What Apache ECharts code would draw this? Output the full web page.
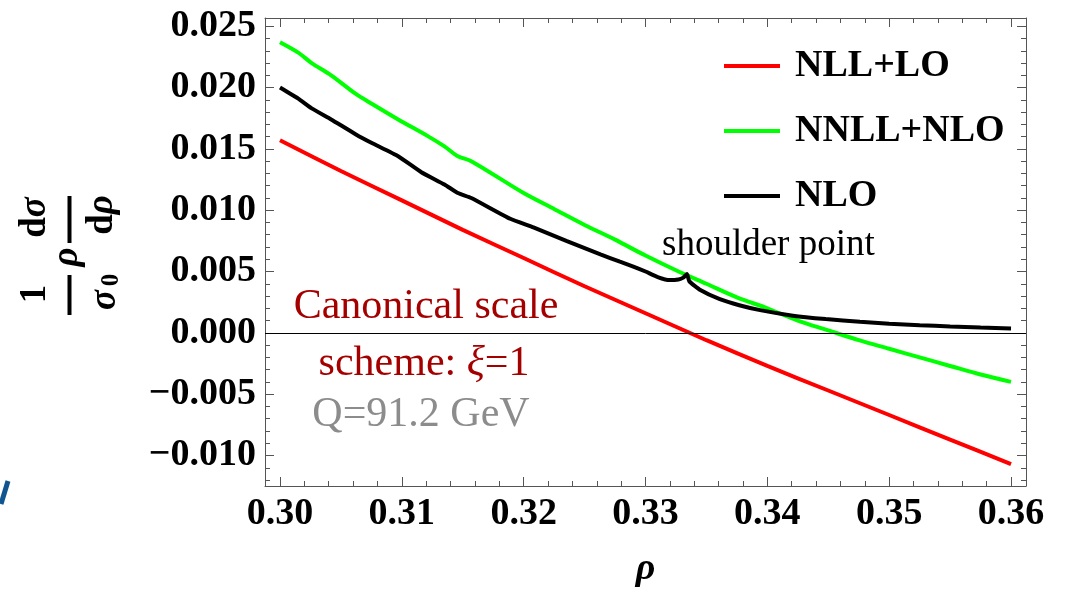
<!DOCTYPE html>
<html>
<head>
<meta charset="utf-8">
<title>Canonical scale scheme</title>
<script src="https://cdn.jsdelivr.net/npm/echarts@6/dist/echarts.min.js"></script>
<style>
html, body { margin: 0; padding: 0; background: #fff; }
#main { width: 1072px; height: 593px; }
</style>
</head>
<body>
<div id="main"></div>
<script>
var mychart = echarts.init(document.getElementById('main'));

// NLL+LO
var redRho = [0.300, 0.305, 0.310, 0.315, 0.320, 0.325, 0.330, 0.335, 0.340, 0.345, 0.350, 0.355, 0.360];
var redVal = [0.0157, 0.0132, 0.0108, 0.0084, 0.0061, 0.0038, 0.0016, -0.0006, -0.0027, -0.0047, -0.0067, -0.0087, -0.0107];

// NNLL+NLO
var greenRho = [0.300, 0.3015, 0.3026, 0.3042, 0.3062, 0.3075, 0.3097, 0.3122, 0.3135, 0.3146, 0.3157,
    0.320, 0.3225, 0.325, 0.3275, 0.330, 0.3325, 0.335, 0.3375, 0.340, 0.3425, 0.345, 0.3475,
    0.350, 0.3525, 0.355, 0.3575, 0.360];
var greenVal = [0.0237, 0.02285, 0.0220, 0.0210, 0.0195, 0.0187, 0.0174, 0.0160, 0.0152, 0.0144, 0.0140,
    0.0114, 0.0101, 0.0088, 0.0076, 0.0063, 0.0051, 0.0040, 0.0029, 0.0020, 0.0010, 0.0002, -0.0006,
    -0.0013, -0.0020, -0.0027, -0.0034, -0.0040];

// NLO (with the shoulder near 0.3333)
var blackRho = [0.300, 0.3015, 0.3026, 0.3042, 0.3062, 0.3075, 0.3097, 0.3116, 0.3135, 0.3146, 0.3157,
    0.3189, 0.3208, 0.3235, 0.3263, 0.3279, 0.329, 0.330, 0.331, 0.332, 0.3327, 0.3331, 0.3334,
    0.3336, 0.3345, 0.3361, 0.3377, 0.3394, 0.3421, 0.3448, 0.3476, 0.350, 0.3525, 0.355, 0.3575, 0.360];
var blackVal = [0.0200, 0.0191, 0.0183, 0.0174, 0.0162, 0.0155, 0.0144, 0.0131, 0.0121, 0.0114, 0.0110,
    0.0093, 0.0086, 0.0075, 0.0064, 0.0058, 0.0054, 0.0050, 0.00455, 0.0043, 0.00435, 0.0045, 0.0048,
    0.0042, 0.0035, 0.00275, 0.00225, 0.00185, 0.0014, 0.00112, 0.0009, 0.00075, 0.00062, 0.00052, 0.00043, 0.00035];

var seriesNames = ['NLL+LO', 'NNLL+NLO', 'NLO'];
var seriesColors = ['#ff0000', '#00ff00', '#000000'];
var seriesSmooth = [0.3, 0.3, 0.15];

var xTicks = [0.30, 0.31, 0.32, 0.33, 0.34, 0.35, 0.36];
var xTickLabels = ['0.30', '0.31', '0.32', '0.33', '0.34', '0.35', '0.36'];
var yTicks = [-0.010, -0.005, 0, 0.005, 0.010, 0.015, 0.020, 0.025];
var yTickLabels = ['\u22120.010', '\u22120.005', '0.000', '0.005', '0.010', '0.015', '0.020', '0.025'];

// frame range
const xMin = 0.29877, xMax = 0.36123;
const yMin = -0.012488, yMax = 0.025673;

const font = 'Liberation Serif';
const tickColor = '#555';

// minor ticks: five steps between labelled ticks
var xMinor = [];
for (let i = 0; i < xTicks.length - 1; i++) {
    for (let k = 1; k < 5; k++) xMinor.push(xTicks[i] + k * 0.002);
}
var yMinor = [];
for (let m = -12; m <= 25; m++) {
    if (m % 5 !== 0) yMinor.push(m / 1000);
}

function pairs(xs, ys) {
    let out = [];
    for (let i = 0; i < xs.length; i++) out.push([xs[i], ys[i]]);
    return out;
}

function lookup(ticks, labels) {
    return function (v) {
        for (let i = 0; i < ticks.length; i++) {
            if (Math.abs(ticks[i] - v) < 1e-7) return labels[i];
        }
        return '';
    };
}

function axis(pos, min, max, ticks, len, showLine, labels, fmt) {
    return {
        type: 'value',
        position: pos,
        min: min,
        max: max,
        axisLine: { show: showLine, onZero: false, lineStyle: { color: tickColor, width: 1 } },
        axisTick: { show: true, inside: true, length: len, customValues: ticks,
            lineStyle: { color: tickColor, width: 1 } },
        axisLabel: labels ? {
            show: true, customValues: labels, formatter: fmt, margin: 9,
            fontFamily: font, fontWeight: 'bold', fontSize: 38, color: '#000'
        } : { show: false },
        splitLine: { show: false }
    };
}

var xAxes = [
    axis('bottom', xMin, xMax, xTicks, 9, true, xTicks, lookup(xTicks, xTickLabels)),
    axis('bottom', xMin, xMax, xMinor, 5, false),
    axis('top', xMin, xMax, xTicks, 9, true),
    axis('top', xMin, xMax, xMinor, 5, false)
];
xAxes[0].name = '\u03c1';
xAxes[0].nameLocation = 'middle';
xAxes[0].nameGap = 64;
xAxes[0].nameTextStyle = { fontFamily: font, fontStyle: 'italic', fontWeight: 'bold', fontSize: 38, color: '#000' };

var yAxes = [
    axis('left', yMin, yMax, yTicks, 9, true, yTicks, lookup(yTicks, yTickLabels)),
    axis('left', yMin, yMax, yMinor, 5, false),
    axis('right', yMin, yMax, yTicks, 9, true),
    axis('right', yMin, yMax, yMinor, 5, false)
];

var curves = [pairs(redRho, redVal), pairs(greenRho, greenVal), pairs(blackRho, blackVal)];
var series = [];
for (let i = 0; i < curves.length; i++) {
    series.push({
        name: seriesNames[i],
        type: 'line',
        data: curves[i],
        symbol: 'none',
        showSymbol: false,
        smooth: seriesSmooth[i],
        color: seriesColors[i],
        lineStyle: { color: seriesColors[i], width: 4 },
        xAxisIndex: 0,
        yAxisIndex: 0,
        z: 3
    });
}
// thin line at zero
series[0].markLine = {
    silent: true,
    symbol: ['none', 'none'],
    label: { show: false },
    lineStyle: { color: '#000', width: 1, type: 'solid' },
    data: [{ yAxis: 0 }]
};

var t = { fontFamily: font, fontSize: 37, fontWeight: 'bold', fill: '#000' };
var ti = { fontFamily: font, fontSize: 37, fontWeight: 'bold', fontStyle: 'italic', fill: '#000' };

// y axis title, built flat then turned 90 degrees
var yTitle = {
    type: 'group',
    x: 72, y: 256,
    rotation: Math.PI / 2,
    children: [
        { type: 'text', style: Object.assign({ text: '1', x: -38, y: -37, align: 'center', verticalAlign: 'middle' }, t) },
        { type: 'line', shape: { x1: -59, y1: -2.5, x2: -19, y2: -2.5 }, style: { stroke: '#000', lineWidth: 4 } },
        { type: 'text', style: Object.assign({ text: '\u03c3', x: -44, y: 33, align: 'center', verticalAlign: 'middle' }, ti) },
        { type: 'text', style: { text: '0', x: -24, y: 40, align: 'center', verticalAlign: 'middle',
            fontFamily: font, fontSize: 25, fontWeight: 'bold', fill: '#000' } },
        { type: 'text', style: Object.assign({ text: '\u03c1', x: -1, y: -5, align: 'center', verticalAlign: 'middle' }, ti) },
        { type: 'line', shape: { x1: 13, y1: -2.5, x2: 60, y2: -2.5 }, style: { stroke: '#000', lineWidth: 4 } },
        { type: 'text', style: { text: '{d|d}{s|\u03c3}', x: 38.5, y: -37, align: 'center', verticalAlign: 'middle',
            rich: { d: t, s: ti } } },
        { type: 'text', style: { text: '{d|d}{s|\u03c1}', x: 41, y: 30, align: 'center', verticalAlign: 'middle',
            rich: { d: t, s: ti } } }
    ]
};

var red = '#a50000';
var option = {
    animation: false,
    backgroundColor: '#fff',
    grid: { left: 265, top: 18, right: 46, bottom: 104, containLabel: false },
    xAxis: xAxes,
    yAxis: yAxes,
    legend: {
        orient: 'vertical',
        left: 719,
        top: 41,
        icon: 'rect',
        itemWidth: 56,
        itemHeight: 4,
        itemGap: 25,
        textStyle: { fontFamily: font, fontWeight: 'bold', fontSize: 38, color: '#000',
            lineHeight: 40, padding: [0, 0, 0, 10] },
        data: seriesNames
    },
    series: series,
    graphic: [
        yTitle,
        { type: 'text', style: { text: 'shoulder point', x: 662, y: 245, verticalAlign: 'middle',
            fontFamily: font, fontSize: 37, fill: '#000' } },
        { type: 'text', style: { text: 'Canonical scale', x: 426, y: 307, align: 'center', verticalAlign: 'middle',
            fontFamily: font, fontSize: 42, fill: red } },
        { type: 'text', style: { text: '{a|scheme: }{b|\u03be}{a|=1}', x: 424, y: 364, align: 'center', verticalAlign: 'middle',
            rich: { a: { fontFamily: font, fontSize: 42, fill: red },
                    b: { fontFamily: font, fontSize: 42, fontStyle: 'italic', fill: red } } } },
        { type: 'text', style: { text: 'Q=91.2 GeV', x: 421, y: 415, align: 'center', verticalAlign: 'middle',
            fontFamily: font, fontSize: 42, fill: '#8c8c8c' } },
        { type: 'line', shape: { x1: 8, y1: 481, x2: 1, y2: 504 }, style: { stroke: '#10558f', lineWidth: 5 } }
    ]
};

mychart.setOption(option);
</script>
</body>
</html>
